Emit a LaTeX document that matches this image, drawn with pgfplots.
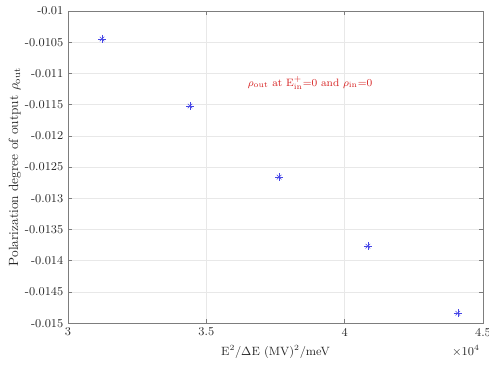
\documentclass[border=0pt]{standalone}
\usepackage{pgfplots}
\pgfplotsset{compat=1.18}
\definecolor{axgray}{RGB}{125,125,125}
\definecolor{gridgray}{RGB}{232,232,232}
\definecolor{mred}{RGB}{215,35,35}
\definecolor{mblue}{RGB}{70,70,230}
\begin{document}
\begin{tikzpicture}
\begin{axis}[
  scale only axis, width=311pt, height=234pt,
  xmin=30000, xmax=45000, ymin=-0.015, ymax=-0.01,
  xtick={30000,35000,40000,45000},
  ytick={-0.015,-0.0145,-0.014,-0.0135,-0.013,-0.0125,-0.012,-0.0115,-0.011,-0.0105,-0.01},
  scaled x ticks=base 10:-4, scaled y ticks=false,
  tick scale binop=\times,
  every x tick scale label/.style={at={(rel axis cs:1,0)}, anchor=base east, yshift=-24pt, xshift=1pt, font=\small},
  xticklabel style={/pgf/number format/fixed, /pgf/number format/precision=1},
  yticklabel style={/pgf/number format/fixed, /pgf/number format/precision=4},
  /pgf/number format/assume math mode=true,
  grid=major, major grid style={gridgray, line width=0.5pt},
  axis line style={axgray}, tick style={axgray, line width=0.5pt}, tick align=inside,
  major tick length=3pt,
  tick label style={color=black!85, font=\small},
  xlabel={E$^2$/$\Delta$E (MV)$^2$/meV},
  ylabel={Polarization degree of output $\rho_{\mathrm{out}}$},
  label style={color=black!85},
  xlabel style={at={(axis description cs:0.5,0)}, anchor=base, yshift=-24pt, font=\small},
  ylabel style={at={(axis description cs:0,0.5)}, anchor=center, yshift=40pt},
]
\addplot[only marks, mark=+, mark size=3pt, mblue, mark options={line width=0.4pt}] coordinates {
  (31230,-0.010449) (34410,-0.011522) (37630,-0.012660) (40840,-0.013766) (44090,-0.014840)
};
\addplot[only marks, mark=x, mark size=2.4pt, mblue, mark options={line width=0.4pt}] coordinates {
  (31230,-0.010449) (34410,-0.011522) (37630,-0.012660) (40840,-0.013766) (44090,-0.014840)
};
\node[mred, font=\footnotesize] at (axis cs:38750,-0.011154) {$\rho_{\mathrm{out}}$ at E$^{+}_{\mathrm{in}}$=0 and $\rho_{\mathrm{in}}$=0};
\coordinate (ll) at (rel axis cs:0,0);
\coordinate (ur) at (rel axis cs:1,1);
\end{axis}
\pgfresetboundingbox
\path (ll) ++(-51pt,-35.25pt) rectangle ([shift={(4.5pt,8.25pt)}]ur);
\end{tikzpicture}
\end{document}
